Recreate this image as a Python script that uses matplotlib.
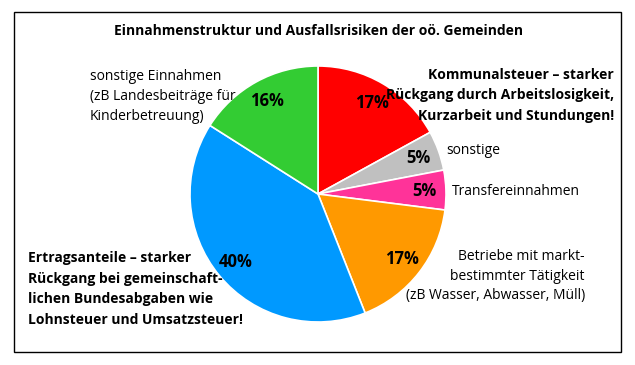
import matplotlib
matplotlib.use("Agg")
import matplotlib.pyplot as plt
from matplotlib.patches import Rectangle

plt.rcParams['font.family'] = ['Open Sans', 'DejaVu Sans']

title = "Einnahmenstruktur und Ausfallsrisiken der oö. Gemeinden"
categories = ["Kommunalsteuer", "sonstige", "Transfereinnahmen",
              "Betriebe mit marktbestimmter Tätigkeit", "Ertragsanteile",
              "sonstige Einnahmen"]
values = [17, 5, 5, 17, 40, 16]
colors = ["#FF0000", "#C0C0C0", "#FF3399", "#FF9900", "#0099FF", "#33CC33"]

W, H = 635, 365
fig = plt.figure(figsize=(W / 100, H / 100), dpi=100)

# frame
fig.patches.append(Rectangle((14 / W, 1 - 352 / H), (621 - 14) / W, (352 - 12) / H,
                             transform=fig.transFigure, fill=False,
                             edgecolor="black", linewidth=1.0))

cx, cy, r = 318, 194, 128
ax = fig.add_axes([(cx - r) / W, 1 - (cy + r) / H, 2 * r / W, 2 * r / H])
wedges, texts, autotexts = ax.pie(values, colors=colors, startangle=90,
                                  counterclock=False, autopct='%.0f%%',
                                  pctdistance=0.83,
                                  wedgeprops=dict(edgecolor="white", linewidth=1.2),
                                  textprops=dict(fontsize=12, fontweight="bold",
                                                 color="black"))
ax.set_xlim(-1, 1)
ax.set_ylim(-1, 1)


def px(x, y):
    return x / W, 1 - y / H


def lines(x, y0, step, rows, ha, bold=False):
    for i, row in enumerate(rows):
        fig.text(*px(x, y0 + i * step), row, ha=ha, va="center", fontsize=10,
                 fontweight="bold" if bold else "normal")


fig.text(*px(318, 31), title, ha="center", va="center",
         fontsize=10, fontweight="bold")

lines(90, 76, 20.5, ["sonstige Einnahmen", "(zB Landesbeiträge für",
                     "Kinderbetreuung)"], "left")

lines(614, 75, 20.5, ["Kommunalsteuer – starker",
                      "Rückgang durch Arbeitslosigkeit,",
                      "Kurzarbeit und Stundungen!"], "right", bold=True)

fig.text(*px(446, 151), "sonstige", ha="left", va="center", fontsize=10)
fig.text(*px(452, 192), "Transfereinnahmen", ha="left", va="center", fontsize=10)

lines(585, 257, 19.5, ["Betriebe mit markt-", "bestimmter Tätigkeit",
                       "(zB Wasser, Abwasser, Müll)"], "right")

lines(28, 258, 20.7, ["Ertragsanteile – starker", "Rückgang bei gemeinschaft-",
                      "lichen Bundesabgaben wie", "Lohnsteuer und Umsatzsteuer!"],
      "left", bold=True)

fig.savefig("out.png", dpi=100)
